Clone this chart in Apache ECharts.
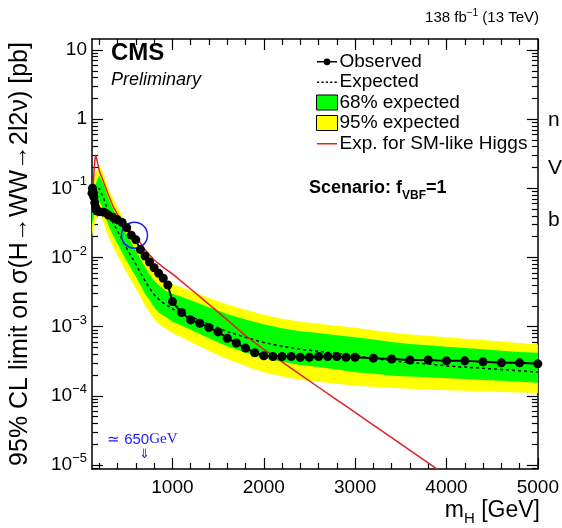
<!DOCTYPE html>
<html><head><meta charset="utf-8">
<script src="https://cdn.jsdelivr.net/npm/echarts@6/dist/echarts.min.js"></script>
<style>html,body{margin:0;padding:0;background:#fff}#c{width:562px;height:528px}</style>
</head><body><div id="c"></div>
<script>
// ---- data ----
const obsMass = [120,125,130,140,150,160,175,200,250,300,350,400,450,500,550,600,650,700,750,800,850,900,950,1000,
  1100,1200,1300,1400,1500,1600,1700,1800,1900,2000,2100,2200,2300,2400,2500,2600,2700,2800,2900,3000,
  3200,3400,3600,3800,4000,4200,4400,4600,4800,5000];
const obsLimit = [0.085,0.10,0.09,0.075,0.062,0.053,0.047,0.046,0.045,0.041,0.038,0.035,0.032,0.027,0.021,0.018,0.013,0.0105,0.0086,0.0071,0.0059,0.0050,0.0040,0.0023,
  0.0016,0.00125,0.00112,0.00097,0.00084,0.00068,0.00058,0.00049,0.00042,0.00038,0.00037,0.00037,0.00037,0.00036,0.00036,0.00037,0.00037,0.00037,0.00036,0.00036,
  0.00035,0.00034,0.00033,0.00033,0.00032,0.00032,0.00031,0.00030,0.00030,0.00029];

const bandMass = [120,150,200,250,300,350,400,450,500,550,600,650,700,750,800,850,900,950,1000,1100,1200,
  1400,1600,1800,2000,2200,2400,2600,2800,3000,3200,3400,3600,3800,4000,4200,4400,4600,4800,5000];
const expLimit = [0.045,0.07,0.10,0.07,0.045,0.032,0.024,0.018,0.0135,0.0103,0.0080,0.0060,0.0046,0.0036,0.0029,0.0025,0.0022,0.0020,0.0018,0.0016,0.0014,
  0.00108,0.00085,0.00070,0.00059,0.00052,0.00047,0.00044,0.00041,0.00038,0.00035,0.00032,0.00030,0.00029,0.00027,0.00026,0.00025,0.00024,0.00023,0.00022];
const green68Hi = [0.07,0.11,0.155,0.11,0.071,0.050,0.038,0.0285,0.0213,0.0163,0.0127,0.0095,0.0073,0.0057,0.0046,0.0040,0.0035,0.0032,0.0030,0.0027,0.0024,
  0.0019,0.00152,0.00127,0.00108,0.00095,0.00086,0.00081,0.00075,0.00070,0.00065,0.00060,0.00056,0.00054,0.00051,0.00049,0.00047,0.00045,0.00043,0.00042];
const green68Lo = [0.03,0.046,0.066,0.046,0.029,0.021,0.0158,0.0118,0.0089,0.0068,0.0053,0.0040,0.0030,0.0024,0.0019,0.0016,0.00145,0.00132,0.00118,0.00104,0.00090,
  0.00068,0.00052,0.00042,0.00035,0.00031,0.00028,0.00026,0.00024,0.00022,0.00021,0.000195,0.00019,0.000185,0.00018,0.000175,0.00017,0.000165,0.00016,0.000155];
const yellow95Hi = [0.10,0.155,0.22,0.155,0.10,0.071,0.053,0.040,0.030,0.0228,0.0177,0.0133,0.0102,0.0080,0.0065,0.0056,0.0049,0.0045,0.0041,0.0037,0.0033,
  0.0026,0.0021,0.00175,0.00148,0.00130,0.00118,0.00110,0.00103,0.00096,0.00089,0.00082,0.00077,0.00074,0.00070,0.00067,0.00064,0.00061,0.00058,0.00055];
const yellow95Lo = [0.02,0.031,0.045,0.031,0.020,0.0143,0.0107,0.0080,0.0060,0.0046,0.0036,0.0027,0.0020,0.0016,0.0013,0.0011,0.00098,0.00089,0.00080,0.00070,0.00060,
  0.00045,0.00034,0.00027,0.00022,0.00019,0.00017,0.00016,0.00015,0.00014,0.000135,0.00013,0.000126,0.000122,0.00012,0.000118,0.000116,0.000114,0.000112,0.00011];

const smMass = [120,130,140,150,160,170,185,200,250,300,350,400,450,500,600,700,800,900,1000,1200,1400,1600,1800,2000,2200,2400,2600,2800,3000,3200,3400,3600,3800,4000];
const smXsec = [0.05,0.09,0.16,0.25,0.30,0.27,0.22,0.18,0.12,0.08,0.055,0.042,0.034,0.027,0.020,0.013,0.0092,0.0072,0.0058,0.0035,0.0021,0.00125,0.00074,0.00047,0.00031,0.000203,0.000133,0.0000875,0.0000575,0.0000378,0.0000248,0.0000163,0.0000107,0.0000070];

const circleAt = [585, 0.021];

const xMajorTicks = [1000,2000,3000,4000,5000];
const xMinorTicks = [200,400,600,800,1200,1400,1600,1800,2200,2400,2600,2800,3200,3400,3600,3800,4200,4400,4600,4800];
const yMajorTicks = [1e-5,1e-4,1e-3,1e-2,1e-1,1,10];
const yMinorTicks = [9e-6];
[-5,-4,-3,-2,-1,0].forEach(function(e){ for (let k=2;k<=9;k++) yMinorTicks.push(k*Math.pow(10,e)); });

const X_MIN = 120, X_MAX = 5000, Y_MIN = 8.75e-6, Y_MAX = 14.4;
const F = '"Liberation Sans", Arial, sans-serif';

function pairs(a, b){ return a.map(function(v,i){ return [v, b[i]]; }); }

function bandRenderer(lo, hi, color){
  return function(params, api){
    if (params.dataIndex !== 0) return;
    const pts = [];
    for (let i=0;i<bandMass.length;i++) pts.push(api.coord([bandMass[i], hi[i]]));
    for (let i=bandMass.length-1;i>=0;i--) pts.push(api.coord([bandMass[i], lo[i]]));
    return {type:'polygon', shape:{points:pts}, style:{fill:color, stroke:null}};
  };
}

function yLabel(v){
  const e = Math.round(Math.log10(v));
  if (e === 1) return '10';
  if (e === 0) return '1';
  return '10{s|' + (e < 0 ? '\u2212' + (-e) : e) + '}';
}

function xAx(pos, ticks, len, labels, line){
  return {type:'value', gridIndex:0, position:pos, min:X_MIN, max:X_MAX,
    axisLine:{show:line, onZero:false, lineStyle:{color:'#000', width:1.5}},
    axisTick:{show:true, inside:true, length:len, customValues:ticks, lineStyle:{color:'#000', width:1.2}},
    axisLabel:{show:labels, customValues:ticks, margin:9, fontSize:19, color:'#000', fontFamily:F,
      formatter:function(v){ return String(Math.round(v)); }},
    splitLine:{show:false}};
}
function yAx(pos, ticks, len, labels, line, extra){
  return Object.assign({type:'log', logBase:10, gridIndex:0, position:pos, min:Y_MIN, max:Y_MAX,
    axisLine:{show:line, onZero:false, lineStyle:{color:'#000', width:1.5}},
    axisTick:{show:true, inside:true, length:len, customValues:ticks, lineStyle:{color:'#000', width:1.2}},
    axisLabel:{show:labels, customValues:ticks, margin:5, fontSize:19, color:'#000', fontFamily:F,
      formatter:yLabel, rich:{s:{fontSize:13, verticalAlign:'top', lineHeight:26, fontFamily:F, color:'#000'}}},
    splitLine:{show:false}, minorSplitLine:{show:false}}, extra||{});
}

const ICON_OBS = 'path://M0,0h0.01v0.01h-0.01z M20,15h0.01v0.01h-0.01z M0,7h20v1.6h-20z M6.6,7.8a3.4,3.4 0 1,1 6.8,0a3.4,3.4 0 1,1 -6.8,0z';
const ICON_DOTTED = 'path://M0,0h0.01v0.01h-0.01z M20,15h0.01v0.01h-0.01z M0,7h2.2v1.4h-2.2z M4.4,7h2.2v1.4h-2.2z M8.8,7h2.2v1.4h-2.2z M13.2,7h2.2v1.4h-2.2z M17.6,7h2.2v1.4h-2.2z';
const ICON_LINE = 'path://M0,0h0.01v0.01h-0.01z M20,15h0.01v0.01h-0.01z M0,7h20v1.4h-20z';

const chart = echarts.init(document.getElementById('c'), null, {renderer:'canvas'});
chart.setOption({
  animation:false,
  backgroundColor:'#fff',
  grid:{left:92, right:24, top:39, bottom:59, containLabel:false},
  xAxis:[ xAx('bottom', xMajorTicks, 11, true, true), xAx('bottom', xMinorTicks, 6, false, false),
          xAx('top', xMajorTicks, 11, false, true), xAx('top', xMinorTicks, 6, false, false) ],
  yAxis:[ yAx('left', yMajorTicks, 11, true, true, {name:'95% CL limit on \u03c3(H\u2192WW\u21922l2\u03bd) [pb]',
            nameLocation:'middle', nameGap:59, nameRotate:90,
            nameTextStyle:{fontSize:25, fontFamily:F, color:'#000'}}),
          yAx('left', yMinorTicks, 6, false, false),
          yAx('right', yMajorTicks, 11, false, true),
          yAx('right', yMinorTicks, 6, false, false) ],
  legend:{orient:'vertical', left:311, top:47, itemWidth:21, itemHeight:15, itemGap:1.5, selectedMode:false,
    textStyle:{fontSize:19, fontFamily:F, color:'#000', padding:[0,0,0,-3]},
    data:[
      {name:'Observed', icon:ICON_OBS, itemStyle:{color:'#000', borderWidth:0}},
      {name:'Expected', icon:ICON_DOTTED, itemStyle:{color:'#000', borderWidth:0}},
      {name:'68% expected', icon:'rect', itemStyle:{color:'#00ff00', borderColor:'#000', borderWidth:1}},
      {name:'95% expected', icon:'rect', itemStyle:{color:'#ffff00', borderColor:'#000', borderWidth:1}},
      {name:'Exp. for SM-like Higgs', icon:ICON_LINE, itemStyle:{color:'#dd2222', borderWidth:0}}
    ]},
  series:[
    {name:'95% expected', type:'custom', xAxisIndex:0, yAxisIndex:0, z:1, clip:true, silent:true,
     itemStyle:{color:'#ffff00'}, renderItem:bandRenderer(yellow95Lo, yellow95Hi, '#ffff00'), data:[[bandMass[0], expLimit[0]]]},
    {name:'68% expected', type:'custom', xAxisIndex:0, yAxisIndex:0, z:2, clip:true, silent:true,
     itemStyle:{color:'#00ff00'}, renderItem:bandRenderer(green68Lo, green68Hi, '#00ff00'), data:[[bandMass[0], expLimit[0]]]},
    {name:'Expected', type:'line', xAxisIndex:0, yAxisIndex:0, z:3, symbol:'none', silent:true,
     lineStyle:{color:'#000', width:1.5, type:[3,3]}, itemStyle:{color:'#000'}, data:pairs(bandMass, expLimit)},
    {name:'Exp. for SM-like Higgs', type:'line', xAxisIndex:0, yAxisIndex:0, z:4, symbol:'none', clip:true, silent:true,
     lineStyle:{color:'#dd2222', width:1.5}, itemStyle:{color:'#dd2222'}, data:pairs(smMass, smXsec)},
    {name:'Observed', type:'line', xAxisIndex:0, yAxisIndex:0, z:5, symbol:'circle', symbolSize:9, showSymbol:true, silent:true,
     lineStyle:{color:'#000', width:2}, itemStyle:{color:'#000'}, data:pairs(obsMass, obsLimit),
     markPoint:{symbol:'circle', symbolSize:26, silent:true, label:{show:false},
       itemStyle:{color:'rgba(0,0,0,0)', borderColor:'#1a1aff', borderWidth:1.5},
       data:[{coord:circleAt}]}}
  ],
  graphic:[
    {type:'text', right:23, top:8, style:{text:'138 fb{s|\u22121} (13 TeV)', fontSize:15, fontFamily:F, fill:'#000',
      rich:{s:{fontSize:10, verticalAlign:'top', lineHeight:20, fontFamily:F, fill:'#000'}}}},
    {type:'text', left:111, top:41, style:{text:'CMS', fontSize:24, fontWeight:'bold', fontFamily:F, fill:'#000'}},
    {type:'text', left:111, top:71, style:{text:'Preliminary', fontSize:18, fontStyle:'italic', fontFamily:F, fill:'#000'}},
    {type:'text', left:309, top:179, style:{text:'Scenario: f{b|VBF}=1', fontSize:18, fontWeight:'bold', fontFamily:F, fill:'#000',
      rich:{b:{fontSize:12, fontWeight:'bold', verticalAlign:'bottom', lineHeight:28, fontFamily:F, fill:'#000'}}}},
    {type:'text', left:107, top:432, style:{text:'\u2243 650{g|GeV}', fontSize:15, fontFamily:F, fill:'#1a1aff',
      rich:{g:{fontSize:15, fontFamily:'"Liberation Serif", serif', fill:'#1a1aff'}}}},
    {type:'text', left:139, top:448, style:{text:'\u21d3', fontSize:13, fontFamily:'"DejaVu Sans", sans-serif', fill:'#1a1aff'}},
    {type:'text', right:22, top:499, style:{text:'m{h|H} [GeV]', fontSize:23, fontFamily:F, fill:'#000',
      rich:{h:{fontSize:15, verticalAlign:'bottom', lineHeight:32, fontFamily:F, fill:'#000'}}}},
    {type:'text', left:548, top:110, style:{text:'n', fontSize:21, fontFamily:F, fill:'#000'}},
    {type:'text', left:548, top:158, style:{text:'V', fontSize:21, fontFamily:F, fill:'#000'}},
    {type:'text', left:548, top:210, style:{text:'b', fontSize:21, fontFamily:F, fill:'#000'}}
  ]
});
</script></body></html>
